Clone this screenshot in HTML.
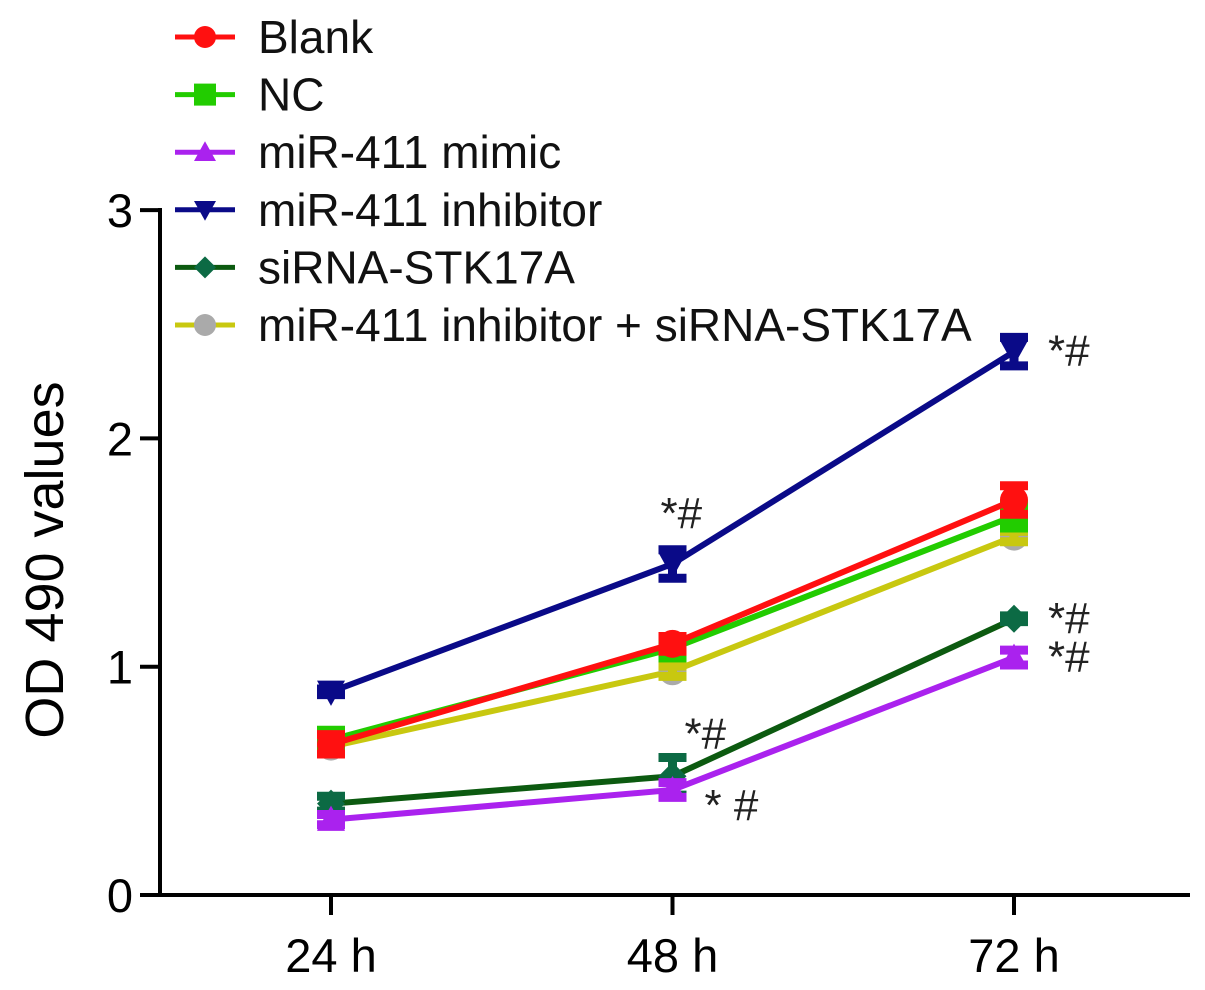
<!DOCTYPE html>
<html><head><meta charset="utf-8"><style>
html,body{margin:0;padding:0;background:#fff}
svg{display:block;font-family:"Liberation Sans",Arial,sans-serif}
</style></head><body>
<svg id="chart" width="1205" height="990" viewBox="0 0 1205 990">
<g id="axes"></g>
<g id="plot"></g>
<g id="legend"></g>
</svg>
<script>
const categories = ["24 h","48 h","72 h"];
const yTicks = [0,1,2,3];
const seriesNames = ["Blank","NC","miR-411 mimic","miR-411 inhibitor","siRNA-STK17A","miR-411 inhibitor + siRNA-STK17A"];
const blankVals = [0.66,1.10,1.73];
const ncVals = [0.68,1.08,1.66];
const mimicVals = [0.33,0.46,1.04];
const inhibitorVals = [0.89,1.45,2.38];
const sirnaVals = [0.40,0.52,1.21];
const comboVals = [0.65,0.98,1.57];
const blankErr = [0.06,0.05,0.08];
const ncErr = [0.05,0.04,0.07];
const mimicErr = [0.04,0.05,0.05];
const inhibitorErr = [0.03,0.08,0.08];
const sirnaErr = [0.05,0.10,0.03];
const comboErr = [0.04,0.04,0.04];
const annotations = [["*#",1,3],["*#",2,3],["*#",2,4],["*#",2,2],["*#",1,4],["* #",1,2]];

const NS="http://www.w3.org/2000/svg";
const X0=331,XS=341.5,Y0=895,YS=228.3;
const xs=i=>X0+i*XS, ys=v=>Y0-v*YS;
function mk(parent,tag,attrs,text){const e=document.createElementNS(NS,tag);for(const k in attrs)e.setAttribute(k,attrs[k]);if(text!==undefined)e.textContent=text;parent.appendChild(e);return e;}
const axes=document.getElementById('axes'),plot=document.getElementById('plot'),legend=document.getElementById('legend');

let a=mk(axes,'line',{x1:160,y1:208,x2:160,y2:897,stroke:'#000','stroke-width':4});


a=mk(axes,'line',{x1:158,y1:895,x2:1190,y2:895,stroke:'#000','stroke-width':4});


yTicks.forEach(t=>{
 const y=ys(t);
 let l=mk(axes,'line',{x1:140,y1:y,x2:160,y2:y,stroke:'#000','stroke-width':4});
 
 
 let tx=mk(axes,'text',{x:133,y:y+17,'text-anchor':'end','font-size':47},String(t));
 
 
});
categories.forEach((c,i)=>{
 const x=xs(i);
 let l=mk(axes,'line',{x1:x,y1:895,x2:x,y2:915,stroke:'#000','stroke-width':4});
 
 
 let tx=mk(axes,'text',{x:x,y:972,'text-anchor':'middle','font-size':47},c);
 
 
});
let yt=mk(axes,'text',{x:0,y:0,'text-anchor':'middle','font-size':54,transform:'translate(63,560) rotate(-90)'},'OD 490 values');



const series=[
 {vals:blankVals,err:blankErr,line:'#ff1010',mc:'#ff1010',m:'circle'},
 {vals:ncVals,err:ncErr,line:'#22cc00',mc:'#22cc00',m:'square'},
 {vals:mimicVals,err:mimicErr,line:'#aa22ee',mc:'#aa22ee',m:'up'},
 {vals:inhibitorVals,err:inhibitorErr,line:'#0a0a88',mc:'#0a0a88',m:'down'},
 {vals:sirnaVals,err:sirnaErr,line:'#0c5a10',mc:'#0c6a44',m:'diamond'},
 {vals:comboVals,err:comboErr,line:'#c8c810',mc:'#aaaaaa',m:'gray'}
];
function marker(g,type,x,y,col,s){
 if(type==='circle')return mk(g,'circle',{cx:x,cy:y,r:s,fill:col});
 if(type==='gray')return mk(g,'circle',{cx:x,cy:y,r:s,fill:'#aaa'});
 if(type==='square')return mk(g,'rect',{x:x-s,y:y-s,width:2*s,height:2*s,fill:col});
 if(type==='up')return mk(g,'polygon',{points:`${x},${y-s} ${x+s},${y+s*0.8} ${x-s},${y+s*0.8}`,fill:col});
 if(type==='down')return mk(g,'polygon',{points:`${x},${y+s} ${x+s},${y-s*0.8} ${x-s},${y-s*0.8}`,fill:col});
 return mk(g,'polygon',{points:`${x},${y-s} ${x+s},${y} ${x},${y+s} ${x-s},${y}`,fill:col});
}
[5,4,2,1,0,3].forEach(si=>{
 const s=series[si];
 const g=mk(plot,'g',{});
 
 
 const pts=s.vals.map((v,i)=>xs(i)+','+ys(v)).join(' ');
 let pl=mk(g,'polyline',{points:pts,fill:'none',stroke:s.line,'stroke-width':6});
 
 
 s.vals.forEach((v,i)=>{
  const x=xs(i),yt=ys(v+s.err[i]),yb=ys(v-s.err[i]);
  let mkr=marker(g,s.m,x,ys(v),s.mc,14);
  
  
  let eb=mk(g,'path',{d:`M${x},${yt}V${yb}M${x-14},${yt+4}H${x+14}M${x-14},${yb-4}H${x+14}`,stroke:s.mc==='#aaaaaa'?s.line:s.mc,'stroke-width':9,fill:'none'});
  
  
 });
});
annotations.forEach(([t,i,si])=>{
 const v=series[si].vals[i];
 let x,y;
 if(i===2){x=xs(i)+34;y=ys(v)+14;}
 else if(si===3){x=xs(i)-12;y=ys(v)-36;}
 else if(si===4){x=xs(i)+12;y=ys(v)-28;}
 else {x=xs(i)+32;y=ys(v)+30;}
 let tx=mk(plot,'text',{x:x,y:y,'font-size':44,fill:'#222'},t);
 
 
});
seriesNames.forEach((n,k)=>{
 const y=37+k*57.6, s=series[k];
 const g=mk(legend,'g',{});
 
 
 mk(g,'line',{x1:175,y1:y,x2:235,y2:y,stroke:s.line,'stroke-width':5});
 marker(g,s.m,205,y,s.mc,11);
 mk(g,'text',{x:258,y:y+16,'font-size':46,fill:'#111'},n);
});
</script>
</body></html>
